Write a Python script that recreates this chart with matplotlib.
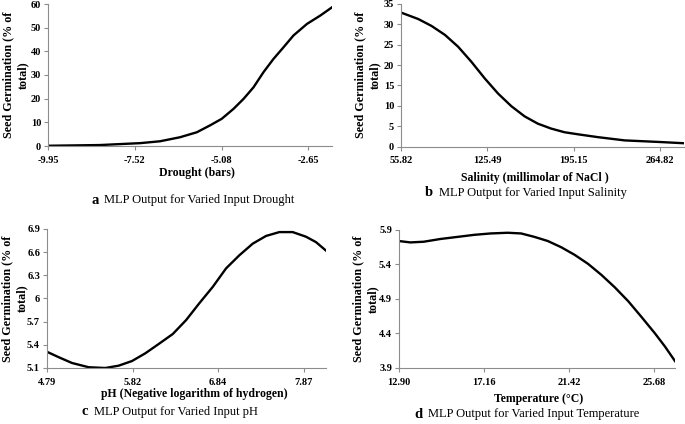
import matplotlib.pyplot as plt

# values
drought_x = [-9.95, -8.5, -7.52, -7.37, -6.81, -6.25, -5.78, -5.41, -5.08, -4.75, -4.47, -4.19,
             -3.91, -3.63, -3.35, -3.07, -2.69, -2.32, -1.99]
drought_y = [0.1, 0.4, 1.1, 1.2, 2.0, 3.7, 5.8, 8.7, 11.5, 15.7, 19.9, 24.8,
             31.2, 36.8, 41.7, 46.7, 51.6, 55.1, 58.6]
drought_ticks = [-9.95, -7.52, -5.08, -2.65]

salinity_x = [55.82, 69.8, 80.5, 91.3, 101.9, 112.6, 123.4, 134.1, 144.8, 155.5, 166.2, 176.9,
              187.7, 198.4, 214.5, 236.1, 264.82, 284.0]
salinity_y = [32.9, 31.3, 29.6, 27.4, 24.5, 20.8, 16.7, 13.0, 9.9, 7.4, 5.6, 4.4,
              3.5, 3.0, 2.3, 1.5, 1.1, 0.8]
salinity_ticks = [55.82, 125.49, 195.15, 264.82]

ph_x = [4.79, 4.93, 5.09, 5.29, 5.49, 5.65, 5.81, 5.97, 6.13, 6.30, 6.46, 6.62, 6.78, 6.94,
        7.10, 7.26, 7.42, 7.58, 7.74, 7.90, 8.02, 8.14]
ph_y = [5.31, 5.24, 5.165, 5.11, 5.10, 5.13, 5.19, 5.29, 5.41, 5.54, 5.72, 5.94, 6.15, 6.39,
        6.56, 6.71, 6.81, 6.86, 6.86, 6.80, 6.73, 6.62]
ph_ticks = [4.79, 5.82, 6.84, 7.87]
ph_yticks = [5.1, 5.4, 5.7, 6.0, 6.3, 6.6, 6.9]
ph_ylabels = ["5.1", "5.4", "5.7", "6", "6.3", "6.6", "6.9"]

temp_x = [12.90, 13.47, 14.14, 14.98, 15.83, 16.67, 17.49, 18.35, 19.02, 19.69, 20.36, 21.03,
          21.70, 22.37, 23.04, 23.71, 24.38, 25.05, 25.73, 26.23, 26.73]
temp_y = [5.74, 5.72, 5.73, 5.77, 5.80, 5.83, 5.85, 5.86, 5.85, 5.80, 5.74, 5.65,
          5.54, 5.41, 5.25, 5.07, 4.87, 4.64, 4.40, 4.21, 4.00]
temp_ticks = [12.90, 17.16, 21.42, 25.68]
temp_yticks = [3.9, 4.4, 4.9, 5.4, 5.9]

plt.rcParams['font.family'] = 'Liberation Serif'

fig = plt.figure(figsize=(6.85, 4.24), dpi=100)
W, H = 685.0, 424.0


def make_axes(l, r, t, b):
    return fig.add_axes([l / W, 1 - b / H, (r - l) / W, (b - t) / H])


def style(ax, box, x, y, xt, xtl, yt, ytl, ylim, xlabel, xlab_pos, ylab_x):
    l, r, t, b = box
    ax.plot(x, y, color='black', linewidth=1.7, solid_joinstyle='round')
    ax.set_xlim(x[0], x[-1])
    ax.set_ylim(*ylim)
    ax.set_xticks(xt)
    ax.set_xticklabels(xtl, fontweight='bold', fontsize=7.5)
    ax.set_yticks(yt)
    ax.set_yticklabels(ytl, fontweight='bold', fontsize=7.5)
    for s in ['top', 'right']:
        ax.spines[s].set_visible(False)
    for s in ['left', 'bottom']:
        ax.spines[s].set_color('#8c8c8c')
        ax.spines[s].set_linewidth(0.8)
    ax.tick_params(colors='#8c8c8c', labelcolor='black', length=3, width=0.8)
    ax.tick_params(axis='x', pad=4)
    ax.tick_params(axis='y', pad=2)
    # axis labels placed at pixel positions
    ax.set_xlabel(xlabel, fontweight='bold', fontsize=8.5, va='center')
    ax.xaxis.set_label_coords((xlab_pos[0] - l) / (r - l), (b - xlab_pos[1]) / (b - t))
    ax.set_ylabel("Seed Germination (% of\ntotal)", fontweight='bold', fontsize=8.7,
                  linespacing=1.3, va='center')
    ax.yaxis.set_label_coords((ylab_x - l) / (r - l), 0.5)


box_a = (48, 332, 4, 146)
ax_a = make_axes(*box_a)
style(ax_a, box_a, drought_x, drought_y, drought_ticks, ["-9.95", "-7.52", "-5.08", "-2.65"],
      range(0, 61, 10), [str(v) for v in range(0, 61, 10)], (0, 60), "Drought (bars)",
      (197, 173), 16)

box_b = (401, 684, 4, 146.5)
ax_b = make_axes(*box_b)
style(ax_b, box_b, salinity_x, salinity_y, salinity_ticks, ["55.82", "125.49", "195.15", "264.82"],
      range(0, 36, 5), [str(v) for v in range(0, 36, 5)], (0, 35), "Salinity (millimolar of NaCl )",
      (535, 178), 368)

box_c = (47, 326, 229, 368)
ax_c = make_axes(*box_c)
style(ax_c, box_c, ph_x, ph_y, ph_ticks, ["4.79", "5.82", "6.84", "7.87"],
      ph_yticks, ph_ylabels, (5.1, 6.9), "pH (Negative logarithm of hydrogen)",
      (194, 394), 15)

box_d = (399, 675, 230, 368)
ax_d = make_axes(*box_d)
style(ax_d, box_d, temp_x, temp_y, temp_ticks, ["12.90", "17.16", "21.42", "25.68"],
      temp_yticks, [str(v) for v in temp_yticks], (3.9, 5.9), "Temperature (\u00b0C)",
      (539, 399), 366)

# captions: bold letter + regular text
captions = [
    (92, 104, 200, "a", "MLP Output for Varied Input Drought"),
    (425, 439, 192.5, "b", "MLP Output for Varied Input Salinity"),
    (82, 94, 411.5, "c", "MLP Output for Varied Input pH"),
    (414.5, 428, 414, "d", "MLP Output for Varied Input Temperature"),
]
for lx, tx, cy, letter, text in captions:
    fig.text(lx / W, 1 - cy / H, letter, fontweight='bold', fontsize=10.5, va='center', ha='left')
    fig.text(tx / W, 1 - cy / H, text, fontsize=9, va='center', ha='left')

fig.savefig('out.png', dpi=100)
